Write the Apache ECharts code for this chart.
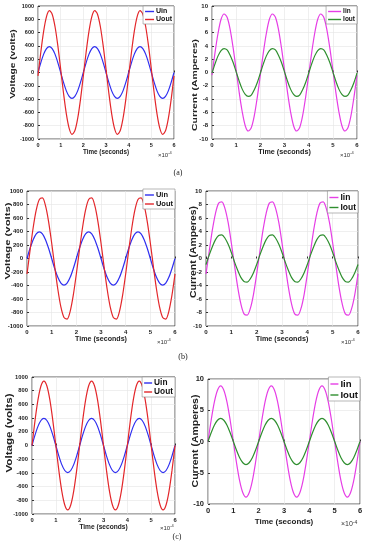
<!DOCTYPE html>
<html><head><meta charset="utf-8">
<script src="https://cdn.jsdelivr.net/npm/echarts@6/dist/echarts.min.js"></script>
<style>html,body{margin:0;padding:0;background:#fff}#c{width:367px;height:550px}</style>
</head><body><div id="c"></div><script>
// Time axis in units of 1e-4 s (labelled "×10⁻⁴")
const time = [0,0.125,0.25,0.375,0.5,0.625,0.75,0.875,1,1.125,1.25,1.375,1.5,1.625,1.75,1.875,2,2.125,2.25,2.375,2.5,2.625,2.75,2.875,3,3.125,3.25,3.375,3.5,3.625,3.75,3.875,4,4.125,4.25,4.375,4.5,4.625,4.75,4.875,5,5.125,5.25,5.375,5.5,5.625,5.75,5.875,6];
const xTickLabels = ['0','1','2','3','4','5','6'];
// (a)
const uinA  = [0,149,276,360,390,360,276,149,0,-149,-276,-360,-390,-360,-276,-149, 0,149,276,360,390,360,276,149,0,-149,-276,-360,-390,-360,-276,-149, 0,149,276,360,390,360,276,149,0,-149,-276,-360,-390,-360,-276,-149, 0];
const uoutA = [-50,309,621,839,929,877,692,403,50,-309,-621,-839,-929,-877,-692,-403, -50,309,621,839,929,877,692,403,50,-309,-621,-839,-929,-877,-692,-403, -50,309,621,839,929,877,692,403,50,-309,-621,-839,-929,-877,-692,-403, -50];
const iinA  = [-0.4,3.0,5.9,8.0,8.8,8.3,6.5,3.7,0.4,-3.0,-5.9,-8.0,-8.8,-8.3,-6.5,-3.7, -0.4,3.0,5.9,8.0,8.8,8.3,6.5,3.7,0.4,-3.0,-5.9,-8.0,-8.8,-8.3,-6.5,-3.7, -0.4,3.0,5.9,8.0,8.8,8.3,6.5,3.7,0.4,-3.0,-5.9,-8.0,-8.8,-8.3,-6.5,-3.7, -0.4];
const ioutA = [-0.1,1.3,2.5,3.3,3.6,3.4,2.6,1.5,0.1,-1.3,-2.5,-3.3,-3.6,-3.4,-2.6,-1.5, -0.1,1.3,2.5,3.3,3.6,3.4,2.6,1.5,0.1,-1.3,-2.5,-3.3,-3.6,-3.4,-2.6,-1.5, -0.1,1.3,2.5,3.3,3.6,3.4,2.6,1.5,0.1,-1.3,-2.5,-3.3,-3.6,-3.4,-2.6,-1.5, -0.1];
// (b)
const uinB  = [0,151,279,365,395,365,279,151,0,-151,-279,-365,-395,-365,-279,-151, 0,151,279,365,395,365,279,151,0,-151,-279,-365,-395,-365,-279,-151, 0,151,279,365,395,365,279,151,0,-151,-279,-365,-395,-365,-279,-151, 0];
const uoutB = [-230,123,456,720,875,897,782,547,230,-123,-456,-720,-875,-897,-782,-547, -230,123,456,720,875,897,782,547,230,-123,-456,-720,-875,-897,-782,-547, -230,123,456,720,875,897,782,547,230,-123,-456,-720,-875,-897,-782,-547, -230];
const iinB  = [-2.3,1.0,4.2,6.7,8.2,8.4,7.4,5.3,2.3,-1.0,-4.2,-6.7,-8.2,-8.4,-7.4,-5.3, -2.3,1.0,4.2,6.7,8.2,8.4,7.4,5.3,2.3,-1.0,-4.2,-6.7,-8.2,-8.4,-7.4,-5.3, -2.3,1.0,4.2,6.7,8.2,8.4,7.4,5.3,2.3,-1.0,-4.2,-6.7,-8.2,-8.4,-7.4,-5.3, -2.3];
const ioutB = [-0.9,0.5,1.75,2.8,3.4,3.5,3.0,2.1,0.9,-0.5,-1.75,-2.8,-3.4,-3.5,-3.0,-2.1, -0.9,0.5,1.75,2.8,3.4,3.5,3.0,2.1,0.9,-0.5,-1.75,-2.8,-3.4,-3.5,-3.0,-2.1, -0.9,0.5,1.75,2.8,3.4,3.5,3.0,2.1,0.9,-0.5,-1.75,-2.8,-3.4,-3.5,-3.0,-2.1, -0.9];
// (c)
const uinC  = [0,151,279,365,395,365,279,151,0,-151,-279,-365,-395,-365,-279,-151, 0,151,279,365,395,365,279,151,0,-151,-279,-365,-395,-365,-279,-151, 0,151,279,365,395,365,279,151,0,-151,-279,-365,-395,-365,-279,-151, 0];
const uoutC = [0,360,665,868,940,868,665,360,0,-360,-665,-868,-940,-868,-665,-360, 0,360,665,868,940,868,665,360,0,-360,-665,-868,-940,-868,-665,-360, 0,360,665,868,940,868,665,360,0,-360,-665,-868,-940,-868,-665,-360, 0];
const iinC  = [0,3.4,6.3,8.2,8.9,8.2,6.3,3.4,0,-3.4,-6.3,-8.2,-8.9,-8.2,-6.3,-3.4, 0,3.4,6.3,8.2,8.9,8.2,6.3,3.4,0,-3.4,-6.3,-8.2,-8.9,-8.2,-6.3,-3.4, 0,3.4,6.3,8.2,8.9,8.2,6.3,3.4,0,-3.4,-6.3,-8.2,-8.9,-8.2,-6.3,-3.4, 0];
const ioutC = [0,1.4,2.6,3.4,3.7,3.4,2.6,1.4,0,-1.4,-2.6,-3.4,-3.7,-3.4,-2.6,-1.4, 0,1.4,2.6,3.4,3.7,3.4,2.6,1.4,0,-1.4,-2.6,-3.4,-3.7,-3.4,-2.6,-1.4, 0,1.4,2.6,3.4,3.7,3.4,2.6,1.4,0,-1.4,-2.6,-3.4,-3.7,-3.4,-2.6,-1.4, 0];
const captions = ['(a)','(b)','(c)'];

const C_UIN='#2f2ff0', C_UOUT='#e3272b', C_IIN='#e63ee6', C_IOUT='#2f8f2f';
const FONT='Liberation Sans';

const panels = [
 {g:{left:38,top:6,width:136,height:133}, y:[-1000,1000,200], yName:'Voltage (volts)', yT:{x:12.7,y:64,size:10.2,sy:0.74}, xNameSize:6.3, tick:5.5, xGap:10,
  s:[['Uin',uinA,C_UIN],['Uout',uoutA,C_UOUT]], lg:{right:193,top:6,size:7,iw:9}, exp:{x:158,y:151,size:6}},
 {g:{left:212,top:6,width:145,height:133}, y:[-10,10,2], yName:'Current (Amperes)', yT:{x:194.5,y:85,size:10.4,sy:0.74}, xNameSize:7.2, tick:6, xGap:10,
  s:[['Iin',iinA,C_IIN],['Iout',ioutA,C_IOUT]], lg:{right:10,top:6,size:6.5,iw:13}, exp:{x:340,y:151,size:6}},
 {g:{left:27,top:191,width:148,height:135}, y:[-1000,1000,200], yName:'Voltage (volts)', yT:{x:8,y:241,size:11.3,sy:0.66}, xNameSize:7.1, tick:6, xGap:10,
  s:[['Uin',uinB,C_UIN],['Uout',uoutB,C_UOUT]], lg:{right:192,top:189,size:7.5,iw:9}, exp:{x:157,y:338,size:6}},
 {g:{left:206,top:191,width:152,height:135}, y:[-10,10,2], yName:'Current (Amperes)', yT:{x:194,y:252,size:10.4,sy:0.83}, xNameSize:7.2, tick:6.2, xGap:10,
  s:[['Iin',iinB,C_IIN],['Iout',ioutB,C_IOUT]], lg:{right:9,top:191,size:8.5,iw:9}, exp:{x:341,y:338,size:6}},
 {g:{left:32,top:377,width:143,height:137}, y:[-1000,1000,200], yName:'Voltage (volts)', yT:{x:10,y:433,size:11.6,sy:0.74}, xNameSize:6.6, tick:5.8, xGap:8,
  s:[['Uin',uinC,C_UIN],['Uout',uoutC,C_UOUT]], lg:{right:192,top:377,size:8.3,iw:8}, exp:{x:160,y:524,size:6}},
 {g:{left:208,top:379,width:152,height:125}, y:[-10,10,5], yName:'Current (Amperes)', yT:{x:195,y:441,size:10.5,sy:0.95}, xNameSize:8, tick:7.5, xGap:14,
  s:[['Iin',iinC,C_IIN],['Iout',ioutC,C_IOUT]], lg:{right:7,top:377,size:9.6,iw:8}, exp:{x:341,y:520,size:7}}
];

const option = {animation:false, backgroundColor:'#fff', grid:[], xAxis:[], yAxis:[], series:[], legend:[], graphic:[]};
panels.forEach((p,i)=>{
  option.grid.push(Object.assign({show:true, borderColor:'#333', borderWidth:0.8, backgroundColor:'#fff', containLabel:false}, p.g));
  option.xAxis.push({type:'value', gridIndex:i, min:0, max:6, interval:1,
    name:'Time (seconds)', nameLocation:'middle', nameGap:p.xGap,
    nameTextStyle:{fontFamily:FONT, fontWeight:'bold', fontSize:p.xNameSize, color:'#222'},
    axisLine:{show:false}, axisTick:{inside:true, length:2, lineStyle:{color:'#333'}},
    splitLine:{show:true, lineStyle:{color:'#e4e4e4', width:0.6}},
    axisLabel:{fontFamily:FONT, fontWeight:'bold', fontSize:p.tick, color:'#222', margin:3,
      formatter:(v)=>xTickLabels[Math.round(v)]}});
  option.yAxis.push({type:'value', gridIndex:i, min:p.y[0], max:p.y[1], interval:p.y[2],
    axisLine:{show:false}, axisTick:{inside:true, length:2, lineStyle:{color:'#333'}},
    splitLine:{show:true, lineStyle:{color:'#e4e4e4', width:0.6}},
    axisLabel:{fontFamily:FONT, fontWeight:'bold', fontSize:p.tick, color:'#222', margin:4,
      formatter:(v)=>String(v)}});
  // y-axis title (horizontally compressed like the source figure)
  option.graphic.push({type:'text', x:p.yT.x, y:p.yT.y, rotation:Math.PI/2, scaleX:1, scaleY:p.yT.sy,
    style:{text:p.yName, fontFamily:FONT, fontWeight:'bold', fontSize:p.yT.size, fill:'#222', align:'center', verticalAlign:'middle'}});
  p.s.forEach(([name,arr,color])=>{
    option.series.push({type:'line', name, xAxisIndex:i, yAxisIndex:i, symbol:'none', smooth:0.3,
      lineStyle:{color, width:1.2}, itemStyle:{color},
      data: time.map((t,k)=>[t,arr[k]])});
  });
  option.legend.push({orient:'vertical', right:p.lg.right, top:p.lg.top, data:p.s.map(s=>s[0]),
    backgroundColor:'#fff', borderColor:'#888', borderWidth:0.6, padding:[2,2,1,2], itemGap:1,
    icon:'rect', itemWidth:p.lg.iw, itemHeight:1.4, selectedMode:false,
    textStyle:{fontFamily:FONT, fontWeight:'bold', fontSize:p.lg.size, color:'#111', padding:[0,0,0,-3]}});
  option.graphic.push({type:'text', left:p.exp.x, top:p.exp.y,
    style:{text:'{a|×10}{b|-4}', rich:{a:{fontFamily:FONT, fontSize:p.exp.size, fill:'#333'}, b:{fontFamily:FONT, fontSize:p.exp.size-2, fill:'#333', verticalAlign:'top', padding:[0,0,4,0]}}}});
});
[[178,169],[183,353],[177,533]].forEach(([x,y],i)=>{
  option.graphic.push({type:'text', x:x, y:y, style:{text:captions[i], fontFamily:'Liberation Serif', fontSize:8, fill:'#222', align:'center', verticalAlign:'top'}});
});
const chart = echarts.init(document.getElementById('c'), null, {renderer:'canvas'});
chart.setOption(option);
</script></body></html>
